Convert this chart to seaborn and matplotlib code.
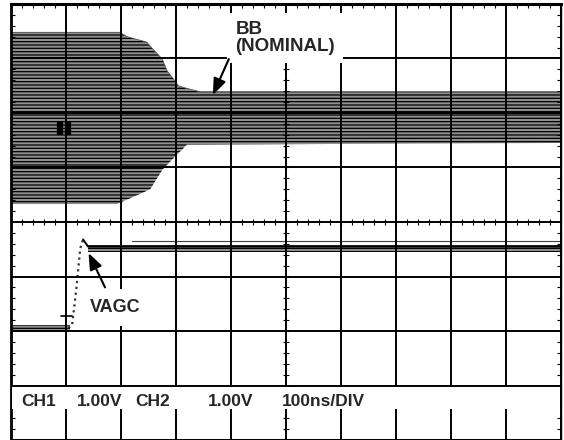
import numpy as np
import seaborn as sns
import matplotlib.pyplot as plt
from matplotlib.ticker import MultipleLocator
from matplotlib.patches import Rectangle

# screen units: 10 horizontal divisions, 8 vertical divisions
# CH1 (BB) envelope
bb_top_x = [0, 1.98, 2.11, 2.47, 2.58, 2.75, 2.84, 2.95, 3.04, 3.20, 3.44, 10]
bb_top_y = [7.48, 7.48, 7.40, 7.30, 7.17, 6.99, 6.77, 6.63, 6.50, 6.45, 6.39, 6.39]
bb_bot_x = [0, 1.93, 2.22, 2.53, 2.76, 3.02, 3.20, 10]
bb_bot_y = [4.33, 4.33, 4.46, 4.60, 4.97, 5.24, 5.42, 5.45]

# CH2 (VAGC) trace
vagc_low_x = [0, 1.07]
vagc_low_top = [2.11, 2.11]
vagc_low_bot = [1.99, 1.99]
vagc_rise_x = [1.04, 1.11, 1.18, 1.26, 1.31]
vagc_rise_y = [2.06, 2.10, 2.70, 3.52, 3.68]
vagc_high_x = [1.31, 1.40, 10]
vagc_high_y = [3.68, 3.55, 3.55]
vagc_band_x = [1.40, 10]
vagc_band_top = [3.58, 3.58]
vagc_band_bot = [3.45, 3.45]
vagc_upper_x = [2.2, 10]
vagc_upper_y = [3.65, 3.65]

gnd_x = [0.89, 1.04]
gnd_y = [5.72, 5.72]
trig_x, trig_y = 1.0, 2.28

labels = ['CH1', '1.00V', 'CH2', '1.00V', '100ns/DIV']
label_x = [0.18, 1.20, 2.25, 3.58, 4.93]

sns.set_style('white')
plt.rcParams['font.family'] = ['Liberation Sans', 'DejaVu Sans']
plt.rcParams['hatch.linewidth'] = 0.9

fig = plt.figure(figsize=(5.64, 4.40), dpi=100)
ax = fig.add_axes([11 / 564, 0, 550 / 564, 436 / 440])
ax.set_xlim(0, 10)
ax.set_ylim(8 - 436 / 55.375, 8)

# graticule
ax.set_xticks(range(11))
ax.set_yticks(range(9))
ax.set_xticklabels([])
ax.set_yticklabels([])
ax.grid(True, color='black', lw=1.4)
ax.set_axisbelow(False)
ax.xaxis.set_minor_locator(MultipleLocator(0.2))
ax.yaxis.set_minor_locator(MultipleLocator(0.2))
ax.tick_params(which='major', length=0)
ax.tick_params(which='minor', direction='in', length=3, width=0.8,
               top=True, bottom=False, left=True, right=True, color='black')
ax.spines['top'].set_linewidth(2.2)
ax.spines['left'].set_linewidth(2.0)
ax.spines['right'].set_linewidth(1.0)
ax.spines['bottom'].set_visible(False)
for s in ['top', 'left', 'right']:
    ax.spines[s].set_color('black')

# ticks on the centre lines
mt = np.arange(0, 10.01, 0.2)
ax.plot(mt, np.full_like(mt, 4.0), ls='none', marker='|', ms=5, mew=0.8, color='black')
mv = np.arange(0.2, 8, 0.2)
ax.plot(np.full_like(mv, 5.0), mv, ls='none', marker='_', ms=5, mew=0.8, color='black')

# CH1 band
ax.fill(np.concatenate([bb_top_x, bb_bot_x[::-1]]),
        np.concatenate([bb_top_y, bb_bot_y[::-1]]),
        facecolor='#8e8e8e', edgecolor='black', hatch='-----', lw=0, zorder=1)
ax.plot(bb_top_x, bb_top_y, color='#555555', lw=0.6, zorder=1)
ax.plot(gnd_x, gnd_y, ls='none', marker='|', ms=10, mew=4.5, color='black')

# CH2 trace
ax.fill_between(vagc_low_x, vagc_low_bot, vagc_low_top, facecolor='#8e8e8e',
                edgecolor='black', hatch='-----', lw=0, zorder=1)
ax.fill_between(vagc_band_x, vagc_band_bot, vagc_band_top, facecolor='#8e8e8e',
                edgecolor='black', hatch='-----', lw=0, zorder=1)
sns.lineplot(x=vagc_rise_x, y=vagc_rise_y, ax=ax, color='#333333', lw=1.6,
             ls=':', sort=False, estimator=None)
sns.lineplot(x=vagc_high_x, y=vagc_high_y, ax=ax, color='black', lw=1.4,
             sort=False, estimator=None)
sns.lineplot(x=vagc_upper_x, y=vagc_upper_y, ax=ax, color='#444444', lw=0.8,
             sort=False, estimator=None)
ax.plot([trig_x - 0.1, trig_x + 0.1], [trig_y, trig_y], color='black', lw=1.2)
ax.plot([trig_x, trig_x], [trig_y, 2.06], color='black', lw=1.2)

# annotations
arrow = dict(arrowstyle='-|>,head_length=0.9,head_width=0.35',
             color='black', lw=1.5, mutation_scale=11, shrinkA=0, shrinkB=0)
ax.text(4.08, 7.69, 'BB\n(NOMINAL)', fontsize=13.5, fontweight='bold', ha='left',
        va='top', linespacing=1.0, zorder=4,
        bbox=dict(facecolor='white', edgecolor='none', pad=6))
ax.annotate('', xy=(3.67, 6.33), xytext=(3.96, 6.99), arrowprops=arrow, zorder=4)
ax.text(1.43, 2.35, 'VAGC', fontsize=13, fontweight='bold', ha='left',
        va='baseline', zorder=4,
        bbox=dict(facecolor='white', edgecolor='none', pad=7))
ax.annotate('', xy=(1.41, 3.43), xytext=(1.71, 2.80), arrowprops=arrow, zorder=4)

# readout strip
ax.add_patch(Rectangle((0.02, 0.56), 9.96, 0.41, facecolor='white',
                       edgecolor='none', zorder=3))
for lab, lx in zip(labels, label_x):
    ax.text(lx, 0.632, lab, fontsize=12.5, fontweight='bold', ha='left',
            va='baseline', zorder=4)

fig.savefig('out.png', dpi=100)
